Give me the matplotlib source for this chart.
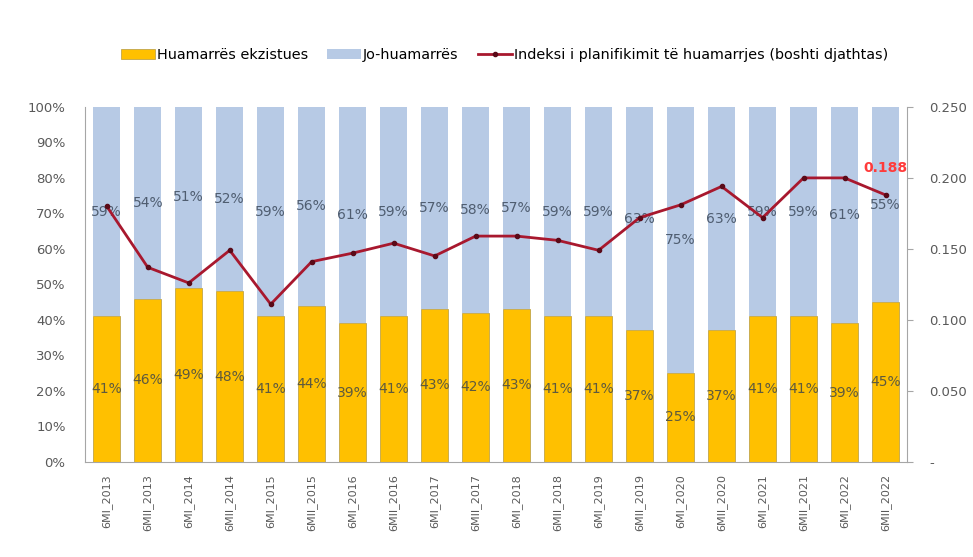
import numpy as np
import matplotlib.pyplot as plt
from matplotlib.ticker import FuncFormatter

periods = ['6MI_2013', '6MII_2013', '6MI_2014', '6MII_2014', '6MI_2015',
           '6MII_2015', '6MI_2016', '6MII_2016', '6MI_2017', '6MII_2017',
           '6MI_2018', '6MII_2018', '6MI_2019', '6MII_2019', '6MI_2020',
           '6MII_2020', '6MI_2021', '6MII_2021', '6MI_2022', '6MII_2022']
existing = [41, 46, 49, 48, 41, 44, 39, 41, 43, 42,
            43, 41, 41, 37, 25, 37, 41, 41, 39, 45]
non_borrowers = [59, 54, 51, 52, 59, 56, 61, 59, 57, 58,
                 57, 59, 59, 63, 75, 63, 59, 59, 61, 55]
planning_index = [0.180, 0.137, 0.126, 0.149, 0.111, 0.141, 0.147, 0.154,
                  0.145, 0.159, 0.159, 0.156, 0.149, 0.172, 0.181, 0.194,
                  0.172, 0.200, 0.200, 0.188]

plt.rcParams['font.family'] = ['DejaVu Sans']

x = np.arange(len(periods))
yellow = '#FFC000'
blue = '#B7CAE5'
tick_col = '#595959'

fig, ax = plt.subplots(figsize=(9.73, 5.57), dpi=100)
fig.subplots_adjust(left=0.0874, right=0.932, top=0.808, bottom=0.171)

bars1 = ax.bar(x, existing, width=0.66, color=yellow, edgecolor='#B59A3C',
               linewidth=0.5, label='Huamarrës ekzistues')
bars2 = ax.bar(x, non_borrowers, width=0.66, bottom=existing, color=blue,
               edgecolor='none', label='Jo-huamarrës')

# percentage labels centred in each stacked piece
for i in range(len(x)):
    ax.text(x[i], existing[i] / 2, f'{existing[i]}%', ha='center',
            va='center', fontsize=10, color='#5E5A3E')
    ax.text(x[i], existing[i] + non_borrowers[i] / 2, f'{non_borrowers[i]}%',
            ha='center', va='center', fontsize=10, color='#4F5D70')

ax.set_ylim(0, 100)
ax.set_xlim(-0.53, len(x) - 0.48)
ax.set_yticks(np.arange(0, 101, 10))
ax.yaxis.set_major_formatter(FuncFormatter(lambda v, p: f'{v:.0f}%'))
ax.tick_params(axis='y', length=0, labelsize=9.5, colors=tick_col, pad=14)
ax.set_xticks(x)
ax.set_xticklabels(periods, rotation=90, fontsize=8, color=tick_col)
ax.tick_params(axis='x', length=0, pad=9)
for s in ['top', 'right']:
    ax.spines[s].set_visible(False)
ax.spines['left'].set_color('#A6A6A6')
ax.spines['bottom'].set_color('#A6A6A6')

ax2 = ax.twinx()
line, = ax2.plot(x, planning_index, color='#A8182E', linewidth=2,
                 marker='o', markersize=3, markerfacecolor='#5A0A18',
                 markeredgecolor='#5A0A18',
                 label='Indeksi i planifikimit të huamarrjes (boshti djathtas)')
ax2.set_ylim(0, 0.25)
ax2.set_yticks(np.arange(0, 0.251, 0.05))
ax2.yaxis.set_major_formatter(
    FuncFormatter(lambda v, p: '-' if abs(v) < 1e-9 else f'{v:.3f}'))
ax2.tick_params(axis='y', length=4, color='#A6A6A6', labelsize=9.5,
                labelcolor=tick_col, pad=12)
for s in ['top', 'left', 'bottom']:
    ax2.spines[s].set_visible(False)
ax2.spines['right'].set_color('#A6A6A6')

ax2.annotate(f'{planning_index[-1]:.3f}', (x[-1], planning_index[-1]),
             xytext=(0, 14), textcoords='offset points', ha='center',
             va='bottom', fontsize=10, fontweight='bold', color='#FF3B3B')

handles = [bars1, bars2, line]
labels = [h.get_label() for h in handles]
fig.legend(handles, labels, loc='center', bbox_to_anchor=(0.5185, 0.901),
           ncol=3, frameon=False, fontsize=10.4, handlelength=2.35,
           handletextpad=0.15, columnspacing=1.3)

fig.savefig('out.png', dpi=100)
